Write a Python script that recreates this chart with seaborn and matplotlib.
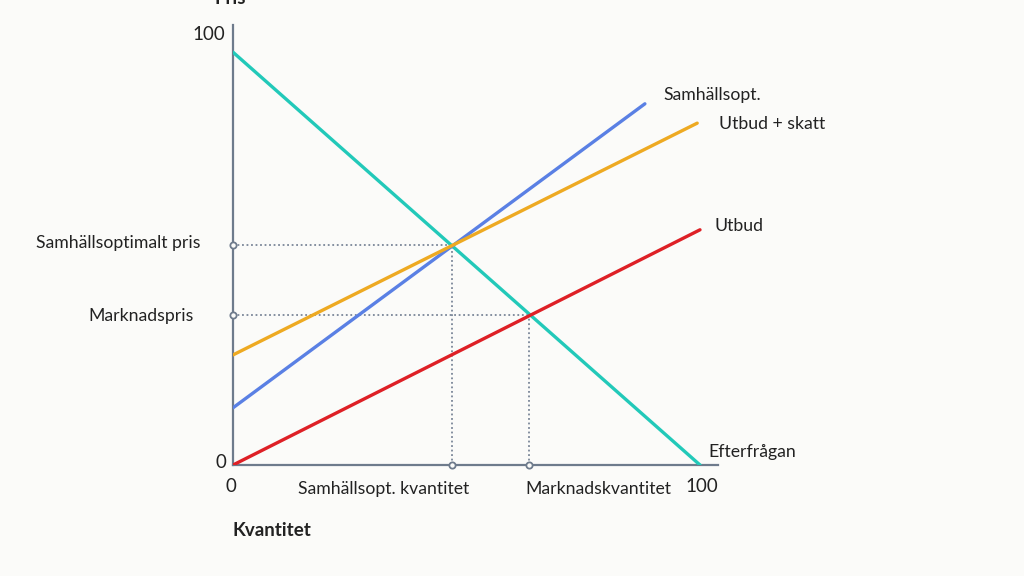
import numpy as np
import pandas as pd
import matplotlib
matplotlib.use("Agg")
import matplotlib.pyplot as plt
import seaborn as sns

# ---- data ----
curve_names = ["Efterfrågan", "Samhällsopt.", "Utbud + skatt", "Utbud"]
demand_q = [0, 100]
demand_p = [96, 0]
social_q = [0, 88.2]
social_p = [13.3, 84.0]
taxsupply_q = [0, 99.4]
taxsupply_p = [25.6, 79.5]
supply_q = [0, 100]
supply_p = [0, 54.7]

opt_q, opt_p = 47.0, 51.2        # samhällsoptimum
mkt_q, mkt_p = 63.3, 34.8        # marknadsjämvikt

x_tick_labels = ["0", "100"]
y_tick_labels = ["0", "100"]

colors = {"Efterfrågan": "#22c9b9", "Samhällsopt.": "#5a80e4",
          "Utbud + skatt": "#eeaa22", "Utbud": "#de2026"}

df = pd.concat([
    pd.DataFrame({"q": demand_q, "p": demand_p, "kurva": "Efterfrågan"}),
    pd.DataFrame({"q": social_q, "p": social_p, "kurva": "Samhällsopt."}),
    pd.DataFrame({"q": taxsupply_q, "p": taxsupply_p, "kurva": "Utbud + skatt"}),
    pd.DataFrame({"q": supply_q, "p": supply_p, "kurva": "Utbud"}),
], ignore_index=True)

sns.set_theme(style="white")
plt.rcParams["font.family"] = ["Lato", "DejaVu Sans"]
bg = "#fbfbf9"
txt = "#222222"
axcol = "#6e7b8c"

W, H = 1024, 576
fig = plt.figure(figsize=(W / 100, H / 100), dpi=100, facecolor=bg)
ax = fig.add_axes([233 / W, (H - 465) / H, (718 - 233) / W, (465 - 25) / H])
ax.set_facecolor(bg)
ax.set_xlim(0, 485 / 4.67)
ax.set_ylim(0, 440 / 4.3)

# dotted guides
dot = dict(color="#7a8698", lw=1.3, ls=(0, (1, 1.5)), zorder=1)
ax.plot([0, opt_q], [opt_p, opt_p], **dot)
ax.plot([opt_q, opt_q], [0, opt_p], **dot)
ax.plot([0, mkt_q], [mkt_p, mkt_p], **dot)
ax.plot([mkt_q, mkt_q], [0, mkt_p], **dot)

sns.lineplot(data=df, x="q", y="p", hue="kurva", palette=colors,
             hue_order=curve_names, linewidth=2.4, legend=False, ax=ax,
             zorder=3, estimator=None, sort=False)

# small hollow markers on the axes
mk = dict(marker="o", ms=4.5, mfc=bg, mec="#6e7b8c", mew=1.3, ls="none",
          clip_on=False, zorder=5)
ax.plot([0, 0], [opt_p, mkt_p], **mk)
ax.plot([opt_q, mkt_q], [0, 0], **mk)

for s in ["top", "right"]:
    ax.spines[s].set_visible(False)
for s in ["left", "bottom"]:
    ax.spines[s].set_color(axcol)
    ax.spines[s].set_linewidth(1.6)
ax.set_xticks([])
ax.set_yticks([])
ax.set_xlabel("")
ax.set_ylabel("")

fs = 12.7


def ftext(x, y, s, ha="left", **kw):
    fig.text(x / W, 1 - y / H, s, ha=ha, va="center", fontsize=kw.pop("size", fs),
             color=txt, **kw)


# axis numbers
ftext(225, 35, y_tick_labels[1], ha="right", size=13.5)
ftext(226, 463, y_tick_labels[0], ha="right", size=13.5)
ftext(231, 487, x_tick_labels[0], ha="center", size=13.5)
ftext(702, 487, x_tick_labels[1], ha="center", size=13.5)

# curve labels
ftext(663, 95, "Samhällsopt.")
ftext(719, 124, "Utbud + skatt")
ftext(714, 226, "Utbud")
ftext(708, 452, "Efterfrågan")

# guide labels
ftext(201, 243, "Samhällsoptimalt pris", ha="right")
ftext(194, 316, "Marknadspris", ha="right")
ftext(384, 489, "Samhällsopt. kvantitet", ha="center")
ftext(598, 489, "Marknadskvantitet", ha="center")

# axis titles
ftext(233, 531, "Kvantitet", weight="bold", size=13.5)
ftext(230, -2, "Pris", ha="center", weight="bold", size=13.5)

fig.savefig("out.png", dpi=100, facecolor=bg)
